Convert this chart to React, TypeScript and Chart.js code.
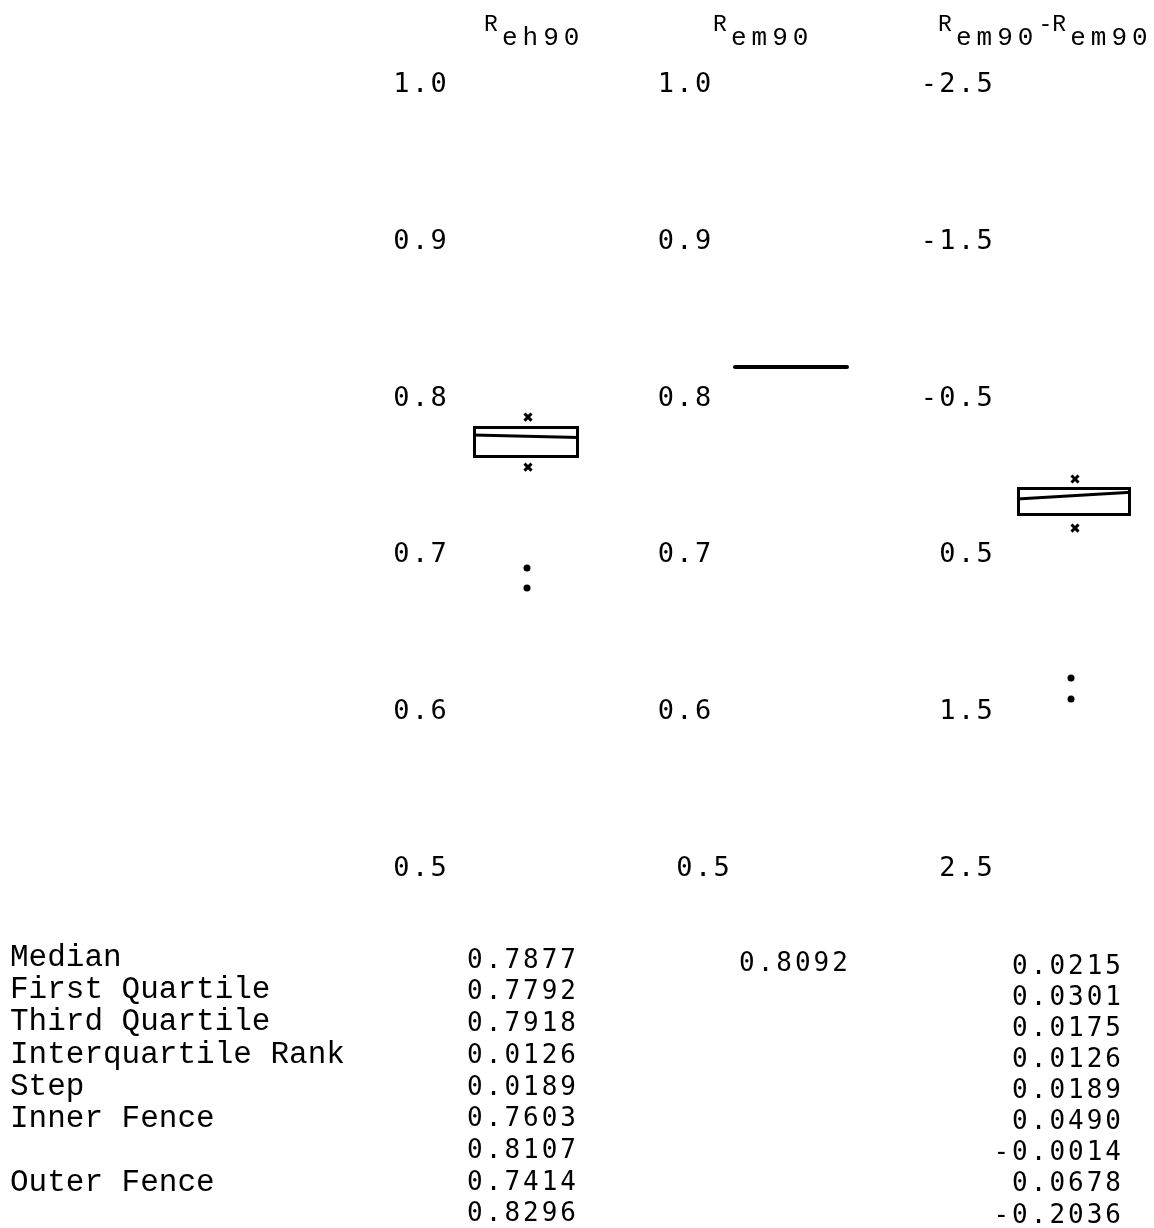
import React, { useEffect, useRef } from "react";
import { Chart, registerables } from "chart.js";

Chart.register(...registerables);

// ---------------- data ----------------
const Y_TICKS_R = [1.0, 0.9, 0.8, 0.7, 0.6, 0.5];
const Y_TICKS_DIFF = [-2.5, -1.5, -0.5, 0.5, 1.5, 2.5];

// R_eh90 column: box [lower, upper], median line [left end, right end], x marks, outlier dots
const REH90_BOX = [0.7602, 0.7806];
const REH90_MID = [0.7749, 0.7732];
const REH90_MARKS = [0.7863, 0.7544];
const REH90_DOTS = [0.69, 0.6773];

// R_em90 column: single level line
const REM90_LEVEL = [0.8182, 0.8182];

// R_em90 - R_em90 column
const DIFF_BOX = [0.083, 0.268];
const DIFF_MID = [0.16, 0.117];
const DIFF_MARKS = [0.032, 0.345];
const DIFF_DOTS = [1.301, 1.435];

const HEADERS: [string, boolean][][] = [
  [["R", false], ["eh90", true]],
  [["R", false], ["em90", true]],
  [["R", false], ["em90", true], ["-", false], ["R", false], ["em90", true]],
];

const STAT_LABELS = [
  "Median",
  "First Quartile",
  "Third Quartile",
  "Interquartile Rank",
  "Step",
  "Inner Fence",
  "",
  "Outer Fence",
  "",
];
const REH90_STATS = ["0.7877", "0.7792", "0.7918", "0.0126", "0.0189", "0.7603", "0.8107", "0.7414", "0.8296"];
const REM90_STATS = ["0.8092"];
const DIFF_STATS = ["0.0215", "0.0301", "0.0175", "0.0126", "0.0189", "0.0490", "-0.0014", "0.0678", "-0.2036"];

// ---------------- layout ----------------
const W = 1154;
const H = 1228;
const PLOT_TOP = 82;
const PLOT_BOTTOM = 866;
const COL_X = [526, 791, 1074];
const BOX_W = [106, 112, 114];
const AXIS_X = [449, 732, 995];
const HEADER_X = [484, 713, 938];

const TICK_FONT = { family: '"DejaVu Sans Mono", monospace', size: 27 };
const R_FONT = '23px "Liberation Mono", monospace';
const SUB_FONT = '26px "Liberation Mono", monospace';
const LABEL_FONT = '31px "Liberation Mono", monospace';
const NUM_FONT = '26px "DejaVu Sans Mono", monospace';

const pts = (x: number, ys: number[]) => ys.map((y) => ({ x, y }));
const seg = (cx: number, w: number, ys: number[]) => [
  { x: cx - w / 2, y: ys[0] },
  { x: cx + w / 2, y: ys[1] },
];

// the x scale is a page-position scale: value == canvas pixel
const pagePositionPlugin = {
  id: "pagePositionX",
  afterLayout(chart: any) {
    const s = chart.scales.x;
    s.min = s.start = s.left;
    s.max = s.end = s.right;
    s.configure();
  },
};

const spacingPlugin = {
  id: "typewriterSpacing",
  beforeDraw(chart: any) {
    chart.ctx.letterSpacing = "2.3px";
  },
  beforeDatasetsDraw(chart: any) {
    chart.ctx.letterSpacing = "0px";
  },
};

const textPlugin = {
  id: "typedText",
  afterDraw(chart: any) {
    const ctx = chart.ctx;
    ctx.save();
    ctx.fillStyle = "#000";
    ctx.textAlign = "left";
    ctx.textBaseline = "alphabetic";
    HEADERS.forEach((segs, i) => {
      let x = HEADER_X[i];
      segs.forEach(([t, sub]) => {
        if (sub) {
          ctx.font = SUB_FONT;
          ctx.letterSpacing = "5px";
          ctx.fillText(t, x, 45);
          x += ctx.measureText(t).width;
        } else {
          ctx.font = R_FONT;
          ctx.letterSpacing = "0px";
          ctx.fillText(t, x, 31);
          x += t === "R" ? 18 : ctx.measureText(t).width;
        }
      });
    });

    ctx.textBaseline = "middle";
    ctx.letterSpacing = "0px";
    ctx.font = LABEL_FONT;
    STAT_LABELS.forEach((t, i) => ctx.fillText(t, 10, 958 + i * 32.1));

    ctx.font = NUM_FONT;
    ctx.letterSpacing = "3px";
    ctx.textAlign = "right";
    REH90_STATS.forEach((t, i) => ctx.fillText(t, 579, 961 + i * 31.7));
    DIFF_STATS.forEach((t, i) => ctx.fillText(t, 1124, 967 + i * 31.1));
    ctx.textAlign = "left";
    REM90_STATS.forEach((t, i) => ctx.fillText(t, 739, 964 + i * 31.7));
    ctx.letterSpacing = "0px";
    ctx.restore();
  },
};

const yAxis = (pos: number, ticks: number[], min: number, max: number, reverse: boolean, fmt: (v: number) => string) => ({
  type: "linear",
  position: { x: pos },
  min,
  max,
  reverse,
  afterBuildTicks: (s: any) => {
    s.ticks = ticks.map((v) => ({ value: v }));
  },
  grid: { display: false, drawTicks: false },
  border: { display: false },
  ticks: {
    autoSkip: false,
    padding: 0,
    labelOffset: 3,
    color: "#000",
    font: TICK_FONT,
    callback: (v: any) => fmt(Number(v)),
  },
});

export default function App() {
  const ref = useRef<HTMLCanvasElement>(null);
  useEffect(() => {
    const canvas = ref.current;
    if (!canvas) return;
    const black = "#000";
    const chart = new Chart(canvas, {
      type: "bar",
      data: {
        datasets: [
          {
            type: "bar",
            data: [{ x: COL_X[0], y: REH90_BOX }],
            yAxisID: "y1",
            grouped: false,
            maxBarThickness: BOX_W[0],
            borderWidth: 3,
            borderColor: black,
            backgroundColor: "rgba(0,0,0,0)",
            borderSkipped: false,
          },
          {
            type: "bar",
            data: [{ x: COL_X[2], y: DIFF_BOX }],
            yAxisID: "y3",
            grouped: false,
            maxBarThickness: BOX_W[2],
            borderWidth: 3,
            borderColor: black,
            backgroundColor: "rgba(0,0,0,0)",
            borderSkipped: false,
          },
          {
            type: "line",
            data: seg(COL_X[0], BOX_W[0], REH90_MID),
            yAxisID: "y1",
            borderColor: black,
            borderWidth: 3,
            pointRadius: 0,
          },
          {
            type: "line",
            data: seg(COL_X[2], BOX_W[2], DIFF_MID),
            yAxisID: "y3",
            borderColor: black,
            borderWidth: 3,
            pointRadius: 0,
          },
          {
            type: "line",
            data: seg(COL_X[1], BOX_W[1], REM90_LEVEL),
            yAxisID: "y2",
            borderColor: black,
            borderWidth: 4,
            borderCapStyle: "round",
            pointRadius: 0,
          },
          {
            type: "scatter",
            data: pts(COL_X[0] + 2, REH90_MARKS),
            yAxisID: "y1",
            pointStyle: "crossRot",
            pointRadius: 5,
            borderWidth: 3,
            borderColor: black,
          },
          {
            type: "scatter",
            data: pts(COL_X[2] + 1, DIFF_MARKS),
            yAxisID: "y3",
            pointStyle: "crossRot",
            pointRadius: 5,
            borderWidth: 3,
            borderColor: black,
          },
          {
            type: "scatter",
            data: pts(COL_X[0] + 1, REH90_DOTS),
            yAxisID: "y1",
            pointStyle: "circle",
            pointRadius: 3.5,
            borderWidth: 0,
            backgroundColor: black,
          },
          {
            type: "scatter",
            data: pts(COL_X[2] - 3, DIFF_DOTS),
            yAxisID: "y3",
            pointStyle: "circle",
            pointRadius: 3.5,
            borderWidth: 0,
            backgroundColor: black,
          },
        ] as any,
      },
      options: {
        animation: false,
        responsive: false,
        events: [],
        layout: { padding: { top: PLOT_TOP, bottom: H - PLOT_BOTTOM, left: 0, right: 0 } },
        plugins: { legend: { display: false }, tooltip: { enabled: false }, title: { display: false } },
        scales: {
          x: {
            type: "linear",
            display: false,
            offset: false,
            min: 0,
            max: W,
            afterBuildTicks: (s: any) => {
              s.ticks = [{ value: 0 }, { value: W }];
            },
          },
          y1: yAxis(AXIS_X[0], Y_TICKS_R, 0.5, 1.0, false, (v) => v.toFixed(1)),
          y2: yAxis(AXIS_X[1], Y_TICKS_R, 0.5, 1.0, false, (v) => (v === 0.5 ? v.toFixed(1) : v.toFixed(1) + " ")),
          y3: yAxis(AXIS_X[2], Y_TICKS_DIFF, -2.5, 2.5, true, (v) => v.toFixed(1)),
        } as any,
      },
      plugins: [pagePositionPlugin, spacingPlugin, textPlugin],
    } as any);
    return () => chart.destroy();
  }, []);

  return (
    <div style={{ position: "absolute", left: 0, top: 0, width: W, height: H, background: "#fff" }}>
      <canvas ref={ref} width={W} height={H} style={{ display: "block", width: W, height: H }} />
    </div>
  );
}
